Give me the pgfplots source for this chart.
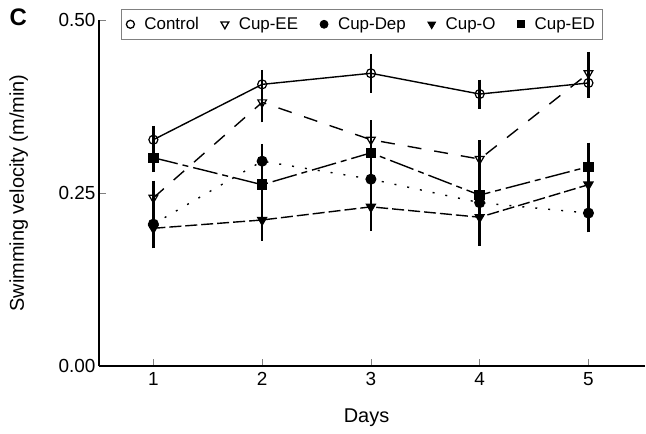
\documentclass[border=0pt]{standalone}
\usepackage{fontspec}
\setmainfont{Liberation Sans}
\usepackage{pgfplots}
\pgfplotsset{compat=1.18}

\pgfplotstableread{
x y e
1 0.327 0.012
2 0.407 0.013
3 0.423 0.020
4 0.393 0.013
5 0.409 0.014
}\control
\pgfplotstableread{
x y e
1 0.243 0.017
2 0.381 0.021
3 0.327 0.020
4 0.299 0.019
5 0.423 0.023
}\cupee
\pgfplotstableread{
x y e
1 0.205 0.015
2 0.296 0.017
3 0.270 0.016
4 0.236 0.018
5 0.221 0.020
}\cupdep
\pgfplotstableread{
x y e
1 0.199 0.021
2 0.211 0.022
3 0.230 0.027
4 0.215 0.033
5 0.262 0.019
}\cupo
\pgfplotstableread{
x y e
1 0.301 0.013
2 0.262 0.020
3 0.308 0.038
4 0.247 0.019
5 0.288 0.027
}\cuped

\pgfplotsset{
  eb/.style={
    error bars/.cd, y dir=both, y explicit,
    error bar style={line width=2.5bp, black, solid},
    error mark options={line width=2.5bp, mark size=5.5bp, black, solid}
  }
}

\begin{document}
\begin{tikzpicture}
\path[use as bounding box] (-99bp,-68bp) rectangle (547bp,366bp);
\begin{axis}[
  scale only axis, width=546bp, height=346bp,
  xmin=0.5, xmax=5.52, ymin=0, ymax=0.5,
  axis x line*=bottom, axis y line*=left,
  axis line style={line width=2.2bp, -},
  xtick={1,2,3,4,5}, ytick={0,0.25,0.5},
  tick style={gray, line width=0.6bp},
  major tick length=7bp,
  tick align=inside,
  /pgf/number format/assume math mode=true,
  yticklabel style={/pgf/number format/.cd, fixed, fixed zerofill, precision=2},
  ticklabel style={font=\fontsize{19}{19}\selectfont},
  xticklabel style={yshift=-3bp},
  xlabel={Days}, ylabel={Swimming velocity (m/min)},
  label style={font=\fontsize{20}{20}\selectfont},
  xlabel style={at={(axis description cs:0.49,-0.162)}, anchor=base},
  ylabel style={at={(axis description cs:-0.147,0.5)}, anchor=center},
  legend columns=5,
  legend cell align=left,
  legend style={at={(axis description cs:0.0403,1.0318)}, anchor=north west,
    draw=gray, line width=0.8bp, font=\fontsize{17}{17}\selectfont,
    inner ysep=6bp, inner xsep=5bp,
    /tikz/every odd column/.append style={column sep=8bp},
    /tikz/every even column/.append style={column sep=20bp}},
  clip=false,
]
\addlegendimage{only marks, mark=o, black, mark size=4bp, mark options={line width=1.3bp}}
\addlegendentry{Control}
\addlegendimage{only marks, mark=triangle, black, mark size=4.5bp, mark options={rotate=180, line width=1.3bp}}
\addlegendentry{Cup-EE}
\addlegendimage{only marks, mark=*, black, mark size=4bp}
\addlegendentry{Cup-Dep}
\addlegendimage{only marks, mark=triangle*, black, mark size=4.5bp, mark options={rotate=180}}
\addlegendentry{Cup-O}
\addlegendimage{only marks, mark=square*, black, mark size=3.6bp}
\addlegendentry{Cup-ED}

\addplot[forget plot, black, line width=1.4bp, dash pattern=on 2bp off 11bp, mark=*, mark size=4.8bp, mark options={solid}, eb] table[x=x, y=y, y error=e] {\cupdep};
\addplot[forget plot, black, line width=1.4bp, dash pattern=on 12bp off 4bp, mark=triangle*, mark size=5bp, mark options={solid, rotate=180}, eb] table[x=x, y=y, y error=e] {\cupo};
\addplot[forget plot, black, line width=1.4bp, dash pattern=on 25bp off 5bp on 6bp off 5bp, mark=square*, mark size=4.5bp, mark options={solid}, eb] table[x=x, y=y, y error=e] {\cuped};
\addplot[forget plot, black, line width=1.4bp, dash pattern=on 14bp off 13bp, mark=triangle, mark size=5bp, mark options={solid, rotate=180, fill=white, line width=1.2bp}, eb] table[x=x, y=y, y error=e] {\cupee};
\addplot[forget plot, black, line width=1.4bp, solid, mark=o, mark size=4.5bp, mark options={solid, fill=white, line width=1.2bp}, eb] table[x=x, y=y, y error=e] {\control};

\node[font=\bfseries\fontsize{24}{24}\selectfont] at (axis description cs:-0.148,1.009) {C};
\end{axis}
\end{tikzpicture}
\end{document}
